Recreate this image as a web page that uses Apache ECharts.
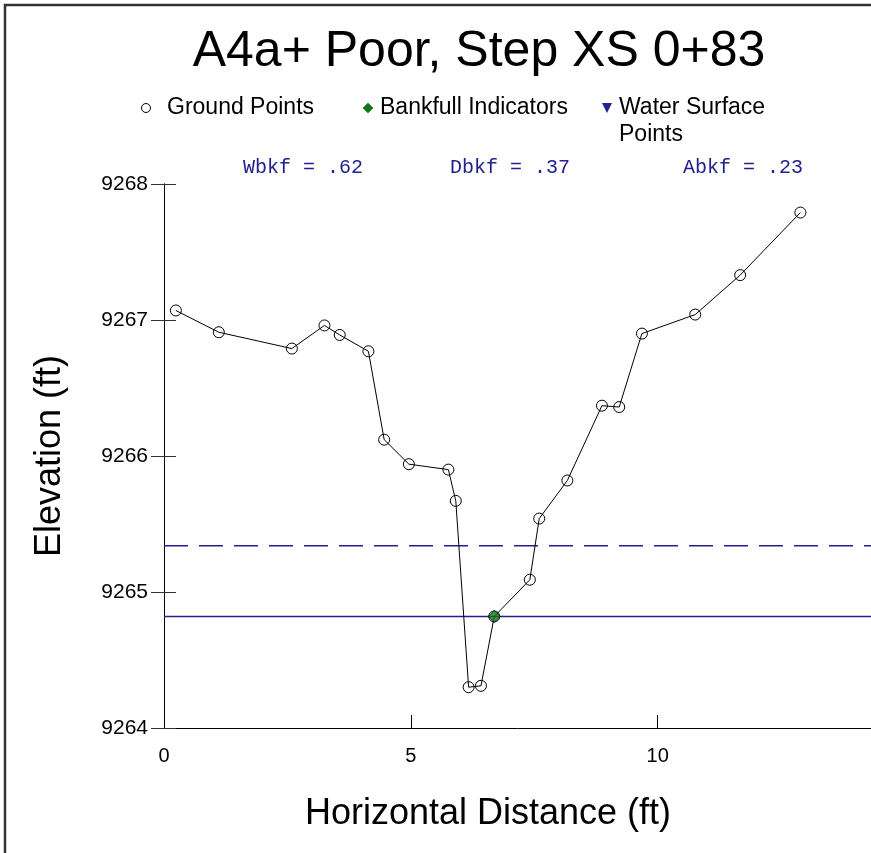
<!DOCTYPE html>
<html>
<head>
<meta charset="utf-8">
<style>
  html, body { margin: 0; padding: 0; background: #fff; }
  #chart { width: 871px; height: 853px; }
</style>
<script src="https://cdn.jsdelivr.net/npm/echarts@6/dist/echarts.min.js"></script>
</head>
<body>
<div id="chart"></div>
<script>
// Cross-section survey: station distance (ft) and ground elevation (ft)
const groundX = [0.24, 1.11, 2.59, 3.25, 3.56, 4.14, 4.46, 4.96, 5.76, 5.91, 6.17,
                 6.42, 6.69, 7.41, 7.60, 8.17, 8.87, 9.22, 9.68, 10.76, 11.67, 12.89];
const groundElev = [9267.07, 9266.91, 9266.79, 9266.96, 9266.89, 9266.77, 9266.12,
                    9265.94, 9265.90, 9265.67, 9264.30, 9264.31, 9264.82, 9265.09,
                    9265.54, 9265.82, 9266.37, 9266.36, 9266.90, 9267.04, 9267.33, 9267.79];

// Bankfull indicator point
const bankfullX = [6.69];
const bankfullY = [9264.82];

// Reference elevations
const bankfullElev = 9264.82;
const waterSurfaceElev = 9265.34;

// Axis extents and ticks
const xMin = 0, xMax = 14.32, xStep = 5;
const yMin = 9264, yMax = 9268, yStep = 1;

// Summary statistics
const statLabels = ['Wbkf = .62', 'Dbkf = .37', 'Abkf = .23'];
const legendNames = ['Ground Points', 'Bankfull Indicators', 'Water Surface', 'Points'];

const SANS = '"Liberation Sans", Arial, sans-serif';
const MONO = '"Liberation Mono", "Courier New", monospace';
const NAVY = '#22228f';

const GRID_LEFT = 164;
const GRID_WIDTH = 871 - GRID_LEFT;

const chart = echarts.init(document.getElementById('chart'), null, { renderer: 'canvas' });

const groundData = groundX.map((x, i) => [x, groundElev[i]]);
const bankfullData = bankfullX.map((x, i) => [x, bankfullY[i]]);

const option = {
  backgroundColor: '#fff',
  animation: false,
  title: {
    text: 'A4a+ Poor, Step XS 0+83',
    left: 474,
    top: 22,
    textAlign: 'center',
    textStyle: { fontFamily: SANS, fontSize: 50, fontWeight: 'normal', color: '#000' }
  },
  grid: { left: GRID_LEFT, right: 0, top: 184, bottom: 125, containLabel: false },
  xAxis: {
    type: 'value',
    min: xMin, max: xMax, interval: xStep,
    name: 'Horizontal Distance (ft)',
    nameLocation: 'middle',
    nameGap: 68,
    nameTextStyle: { fontFamily: SANS, fontSize: 36, color: '#000', padding: [0, 59, 0, 0] },
    axisLine: { show: true, lineStyle: { color: '#000', width: 1 } },
    axisTick: { show: true, inside: true, length: 13, lineStyle: { color: '#000' } },
    axisLabel: {
      fontFamily: SANS, fontSize: 20, color: '#000', margin: 18,
      showMaxLabel: false,
      formatter: v => (v % xStep === 0 ? String(v) : '')
    },
    splitLine: { show: false }
  },
  yAxis: [
    {
      type: 'value',
      min: yMin, max: yMax, interval: yStep,
      position: 'left',
      name: 'Elevation (ft)',
      nameLocation: 'middle',
      nameGap: 96,
      nameRotate: 90,
      nameTextStyle: { fontFamily: SANS, fontSize: 36, color: '#000' },
      axisLine: { show: true, lineStyle: { color: '#000', width: 1 } },
      axisTick: { show: true, inside: false, length: 13, lineStyle: { color: '#333' } },
      axisLabel: { fontFamily: SANS, fontSize: 21, color: '#000', margin: 16,
                   formatter: v => String(v) },
      splitLine: { show: false }
    },
    {
      // right-pointing half of the crossing tick marks, moved onto the left axis line
      type: 'value',
      min: yMin, max: yMax, interval: yStep,
      position: 'right',
      offset: -GRID_WIDTH,
      axisLine: { show: true, lineStyle: { color: '#000', width: 1 } },
      axisTick: { show: true, inside: false, length: 12, lineStyle: { color: '#333' } },
      axisLabel: { show: false },
      splitLine: { show: false }
    }
  ],
  series: [
    {
      name: 'Water Surface',
      type: 'line',
      data: [[xMin, waterSurfaceElev], [xMax, waterSurfaceElev]],
      symbol: 'none',
      silent: true,
      lineStyle: { color: NAVY, width: 1.3, type: [24, 11] },
      z: 1
    },
    {
      name: 'Bankfull',
      type: 'line',
      data: [[xMin, bankfullElev], [xMax, bankfullElev]],
      symbol: 'none',
      silent: true,
      lineStyle: { color: NAVY, width: 1.5 },
      z: 1
    },
    {
      name: 'Ground Points',
      type: 'line',
      data: groundData,
      symbol: 'circle',
      symbolSize: 11,
      showAllSymbol: true,
      lineStyle: { color: '#000', width: 1 },
      itemStyle: { color: 'rgba(0,0,0,0)', borderColor: '#000', borderWidth: 1 },
      z: 3
    },
    {
      name: 'Bankfull Indicators',
      type: 'scatter',
      data: bankfullData,
      symbol: 'diamond',
      symbolSize: 12,
      itemStyle: { color: '#0b7a12', borderColor: '#111', borderWidth: 1 },
      z: 4
    }
  ],
  graphic: [
    {
      type: 'rect',
      shape: { x: 5, y: 5, width: 900, height: 900 },
      style: { fill: 'none', stroke: '#333', lineWidth: 2.5 },
      silent: true, z: 100
    },
    // legend
    { type: 'circle', shape: { cx: 146, cy: 108, r: 4.5 },
      style: { fill: '#fff', stroke: '#000', lineWidth: 1 } },
    { type: 'text', left: 167, top: 96,
      style: { text: legendNames[0], font: '23px ' + SANS, fill: '#000' } },
    { type: 'polygon', shape: { points: [[368, 103], [373, 108], [368, 113], [363, 108]] },
      style: { fill: '#0b7a12', stroke: '#0b5a10', lineWidth: 0.5 } },
    { type: 'text', left: 380, top: 96,
      style: { text: legendNames[1], font: '23px ' + SANS, fill: '#000' } },
    { type: 'polygon', shape: { points: [[602, 103], [612, 103], [607, 113]] },
      style: { fill: NAVY } },
    { type: 'text', left: 619, top: 96,
      style: { text: legendNames[2], font: '23px ' + SANS, fill: '#000' } },
    { type: 'text', left: 619, top: 123,
      style: { text: legendNames[3], font: '23px ' + SANS, fill: '#000' } },
    // bankfull statistics
    { type: 'text', left: 243, top: 158,
      style: { text: statLabels[0], font: '20px ' + MONO, fill: NAVY } },
    { type: 'text', left: 450, top: 158,
      style: { text: statLabels[1], font: '20px ' + MONO, fill: NAVY } },
    { type: 'text', left: 683, top: 158,
      style: { text: statLabels[2], font: '20px ' + MONO, fill: NAVY } }
  ]
};

chart.setOption(option);
</script>
</body>
</html>
